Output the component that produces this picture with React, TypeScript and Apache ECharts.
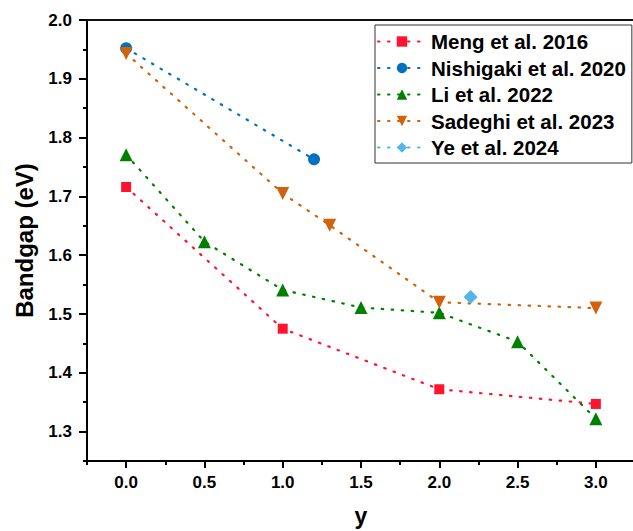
import React, { useEffect, useRef } from "react";
import * as echarts from "echarts";

const mengData: [number, number][] = [[0, 1.716], [1, 1.475], [2, 1.372], [3, 1.347]];
const nishigakiData: [number, number][] = [[0, 1.952], [1.2, 1.763]];
const liData: [number, number][] = [[0, 1.771], [0.5, 1.623], [1, 1.541], [1.5, 1.511], [2, 1.502], [2.5, 1.453], [3, 1.322]];
const sadeghiData: [number, number][] = [[0, 1.943], [1, 1.705], [1.3, 1.651], [2, 1.520], [3, 1.510]];
const yeData: [number, number][] = [[2.2, 1.529]];

const xMajorTicks = [0, 0.5, 1, 1.5, 2, 2.5, 3];
const xMinorTicks = [-0.25, 0.25, 0.75, 1.25, 1.75, 2.25, 2.75, 3.25];
const yMajorTicks = [1.3, 1.4, 1.5, 1.6, 1.7, 1.8, 1.9, 2.0];
const yMinorTicks = [1.25, 1.35, 1.45, 1.55, 1.65, 1.75, 1.85, 1.95];

const FONT = "'Liberation Sans', Arial, sans-serif";

export default function App() {
  const ref = useRef<HTMLDivElement>(null);
  useEffect(() => {
    if (!ref.current) return;
    document.body.style.margin = "0";
    document.body.style.overflow = "hidden";
    const chart = echarts.init(ref.current, null, { renderer: "svg" });
    const dash = { type: [1.5, 8.5] as any, width: 2.2, cap: "round" as any };
    const mk = (name: string, data: [number, number][], color: string, symbol: string, size: number, rotate = 0) => ({
      name,
      type: "line",
      data,
      symbol,
      symbolSize: size,
      symbolRotate: rotate,
      itemStyle: { color },
      lineStyle: { ...dash, color },
      xAxisIndex: 0,
      yAxisIndex: 0,
    });
    chart.setOption({
      animation: false,
      backgroundColor: "#fff",
      textStyle: { fontFamily: FONT },
      grid: { left: 87, top: 20, width: 548, height: 441, outerBoundsMode: "none", containLabel: false },
      legend: {
        orient: "vertical",
        left: 375,
        top: 25,
        padding: [6, 6, 5, 2],
        itemWidth: 48,
        itemHeight: 13,
        itemGap: 5.5,
        borderColor: "#333",
        borderWidth: 1,
        textStyle: { fontFamily: FONT, fontWeight: "bold", fontSize: 20.5, color: "#000", lineHeight: 20 },
        data: ["Meng et al. 2016", "Nishigaki et al. 2020", "Li et al. 2022", "Sadeghi et al. 2023", "Ye et al. 2024"],
      },
      xAxis: [
        {
          type: "value",
          min: -0.25,
          max: 3.25,
          position: "bottom",
          name: "y",
          nameLocation: "middle",
          nameGap: 43,
          nameTextStyle: { fontFamily: FONT, fontWeight: "bold", fontSize: 23, color: "#000" },
          axisLine: { show: true, onZero: false, lineStyle: { color: "#000", width: 2 } },
          axisTick: { show: true, inside: false, length: 7, customValues: xMajorTicks, lineStyle: { color: "#000", width: 2 } },
          axisLabel: { show: true, customValues: xMajorTicks, margin: 13, fontFamily: FONT, fontWeight: "bold", fontSize: 17, color: "#000", formatter: (v: number) => v.toFixed(1) },
          splitLine: { show: false },
        },
        {
          type: "value",
          min: -0.25,
          max: 3.25,
          position: "bottom",
          axisLine: { show: false, onZero: false },
          axisTick: { show: true, inside: false, length: 4, customValues: xMinorTicks, lineStyle: { color: "#000", width: 2 } },
          axisLabel: { show: false },
          splitLine: { show: false },
        },
        {
          type: "value",
          min: -0.25,
          max: 3.25,
          position: "top",
          axisLine: { show: true, onZero: false, lineStyle: { color: "#111", width: 2 } },
          axisTick: { show: false },
          axisLabel: { show: false },
          splitLine: { show: false },
        },
      ],
      yAxis: [
        {
          type: "value",
          min: 1.25,
          max: 2.0,
          position: "left",
          name: "Bandgap (eV)",
          nameLocation: "middle",
          nameGap: 51,
          nameTextStyle: { fontFamily: FONT, fontWeight: "bold", fontSize: 24, color: "#000" },
          axisLine: { show: true, onZero: false, lineStyle: { color: "#000", width: 2 } },
          axisTick: { show: true, inside: false, length: 8, customValues: yMajorTicks, lineStyle: { color: "#000", width: 2 } },
          axisLabel: { show: true, customValues: yMajorTicks, margin: 15, fontFamily: FONT, fontWeight: "bold", fontSize: 17, color: "#000", formatter: (v: number) => v.toFixed(1) },
          splitLine: { show: false },
        },
        {
          type: "value",
          min: 1.25,
          max: 2.0,
          position: "left",
          axisLine: { show: false, onZero: false },
          axisTick: { show: true, inside: false, length: 4, customValues: yMinorTicks, lineStyle: { color: "#000", width: 2 } },
          axisLabel: { show: false },
          splitLine: { show: false },
        },
      ],
      series: [
        mk("Meng et al. 2016", mengData, "#FF1430", "rect", 10),
        mk("Nishigaki et al. 2020", nishigakiData, "#0070C0", "circle", 12),
        mk("Li et al. 2022", liData, "#008000", "triangle", 13),
        mk("Sadeghi et al. 2023", sadeghiData, "#D2620A", "triangle", 13, 180),
        mk("Ye et al. 2024", yeData, "#56B4E9", "diamond", 14),
      ],
    });
    return () => chart.dispose();
  }, []);
  return <div ref={ref} style={{ position: "absolute", left: 0, top: 0, width: 633, height: 531 }} />;
}
